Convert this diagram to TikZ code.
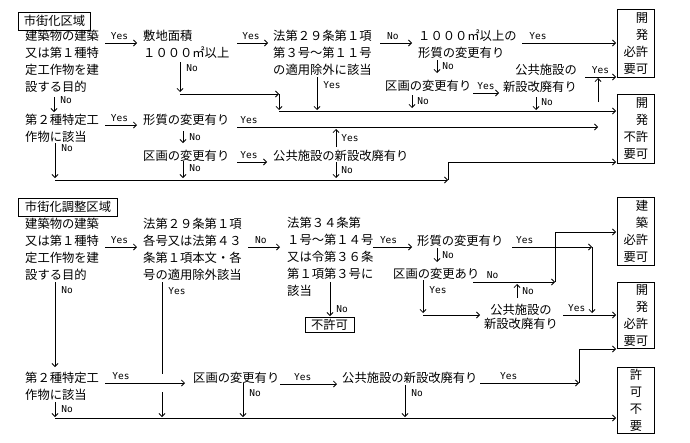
\documentclass[tikz,border=0pt]{standalone}
\usepackage{fontspec}
\usetikzlibrary{arrows.meta}
\newfontfamily\jpfont{Noto Sans CJK JP}
\newfontfamily\ynfont{DejaVu Sans Mono}

\tikzset{
	jtxt/.style={font=\jpfont\fontsize{12.3}{17}\selectfont, inner sep=0pt, align=left, anchor=north west},
	yn/.style={font=\ynfont\fontsize{9.5}{10}\selectfont, inner sep=1pt},
	areabox/.style={draw, line width=0.8pt, font=\jpfont\fontsize{12.3}{17}\selectfont, inner xsep=5.5pt, inner ysep=0pt, minimum height=18pt},
	kbox/.style={draw, line width=0.8pt, font=\jpfont\fontsize{12.3}{17}\selectfont, align=right, anchor=north west, inner xsep=6pt, inner ysep=0pt, minimum width=37pt},
	flow/.style={-{Straight Barb[length=3pt,width=6pt]}, line width=0.8pt},
	wire/.style={line width=0.8pt}
}

\begin{document}
\begin{tikzpicture}[x=1pt,y=-1pt]
			\useasboundingbox (0,0) rectangle (690,442);

			% 市街化区域
			\node[areabox] (shigaika) at (54.5,21) {市街化区域};
			\node[jtxt] (mokuteki1) at (25,29.5) {建築物の建築\\又は第１種特\\定工作物を建\\設する目的};
			\node[jtxt] (shikichi) at (143,29.5) {敷地面積\\１０００㎡以上};
			\node[jtxt] (tekiyo1) at (273,29.5) {法第２９条第１項\\第３号～第１１号\\の適用除外に該当};
			\node[jtxt] (keishitsu1) at (418,29.5) {１０００㎡以上の\\形質の変更有り};
			\node[jtxt] (kukaku1) at (385,80) {区画の変更有り};
			\node[jtxt,anchor=north east,align=right] (koukyou1) at (577,63.5) {公共施設の\\新設改廃有り};
			\node[kbox,minimum height=68pt] (kyoka1) at (617,9) {開\\発\\必許\\要可};
			\node[kbox,minimum height=69pt] (fukyoka1) at (617,94) {開\\発\\不許\\要可};
			\node[jtxt] (tokutei1) at (25,114) {第２種特定工\\作物に該当};
			\node[jtxt] (keishitsu2) at (143,114) {形質の変更有り};
			\node[jtxt] (kukaku2) at (143,149.5) {区画の変更有り};
			\node[jtxt] (koukyou2) at (273,149.5) {公共施設の新設改廃有り};

			\coordinate (A1) at (105,43);  \coordinate (A2) at (137,43);
			\coordinate (B1) at (237,43);  \coordinate (B2) at (268,43);
			\coordinate (C1) at (380,43);  \coordinate (C2) at (412,43);
			\coordinate (D1) at (522,43);  \coordinate (D2) at (616,43);
			\coordinate (E1) at (180,62);  \coordinate (E2) at (180,92);
			\coordinate (E3) at (180,94);  \coordinate (E4) at (279,94);
			\coordinate (E5) at (279,110);
			\coordinate (F1) at (317,77);  \coordinate (F2) at (317,110);
			\coordinate (G1) at (437,60);  \coordinate (G2) at (437,73);
			\coordinate (H1) at (412,95);  \coordinate (H2) at (412,108);
			\coordinate (I1) at (473,93);  \coordinate (I2) at (499,93);
			\coordinate (J1) at (536,97);  \coordinate (J2) at (536,110);
			\coordinate (K1) at (585,77);  \coordinate (K2) at (616,77);
			\coordinate (K3) at (598,102); \coordinate (K4) at (598,78);
			\coordinate (L1) at (279,111); \coordinate (L2) at (616,111);
			\coordinate (M1) at (237,127); \coordinate (M2) at (598,127);
			\coordinate (N1) at (54,97);   \coordinate (N2) at (54,112);
			\coordinate (O1) at (105,125); \coordinate (O2) at (137,125);
			\coordinate (P1) at (183,131); \coordinate (P2) at (183,143);
			\coordinate (P3) at (183,161); \coordinate (P4) at (183,178);
			\coordinate (Q1) at (237,162); \coordinate (Q2) at (267,162);
			\coordinate (R1) at (336,147); \coordinate (R2) at (336,129);
			\coordinate (R3) at (336,162); \coordinate (R4) at (336,178);
			\coordinate (S1) at (55,143);  \coordinate (S2) at (55,178);
			\coordinate (T1) at (55,180);  \coordinate (T2) at (448,180);
			\coordinate (T3) at (448,162); \coordinate (T4) at (616,162);

			\draw[flow] (A1) -- node[yn,pos=.45,above=2pt] {Yes} (A2);
			\draw[flow] (B1) -- node[yn,pos=.45,above=2pt] {Yes} (B2);
			\draw[flow] (C1) -- node[yn,pos=.4,above=2pt] {No} (C2);
			\draw[flow] (D1) -- node[yn,pos=.17,above=2pt] {Yes} (D2);
			\draw[flow] (E1) -- node[yn,pos=.2,right=5pt] {No} (E2);
			\draw[flow] (E3) -- (E4);
			\draw[flow] (E4) -- (E5);
			\draw[flow] (F1) -- node[yn,pos=.25,right=5pt] {Yes} (F2);
			\draw[flow] (G1) -- node[yn,pos=.5,right=4pt] {No} (G2);
			\draw[flow] (H1) -- node[yn,pos=.45,right=4pt] {No} (H2);
			\draw[flow] (I1) -- node[yn,pos=.5,above=2pt] {Yes} (I2);
			\draw[flow] (J1) -- node[yn,pos=.4,right=4pt] {No} (J2);
			\draw[flow] (K1) -- node[yn,pos=.5,above=2pt] {Yes} (K2);
			\draw[flow] (K3) -- (K4);
			\draw[flow] (L1) -- (L2);
			\draw[flow] (M1) -- node[yn,pos=0,above right=2pt] {Yes} (M2);
			\draw[flow] (N1) -- node[yn,pos=.2,right=5pt] {No} (N2);
			\draw[flow] (O1) -- node[yn,pos=.45,above=2pt] {Yes} (O2);
			\draw[flow] (P1) -- node[yn,pos=.5,right=5pt] {No} (P2);
			\draw[flow] (P3) -- node[yn,pos=.4,right=5pt] {No} (P4);
			\draw[flow] (Q1) -- node[yn,pos=.4,above=2pt] {Yes} (Q2);
			\draw[flow] (R1) -- node[yn,pos=.5,right=4pt] {Yes} (R2);
			\draw[flow] (R3) -- node[yn,pos=.5,right=4pt] {No} (R4);
			\draw[flow] (S1) -- node[yn,pos=.15,right=5pt] {No} (S2);
			\draw[flow] (T1) -- (T2);
			\draw[flow] (T2) -- (T3) -- (T4);

			% 市街化調整区域
			\node[areabox,inner xsep=6.5pt] (chosei) at (68,207) {市街化調整区域};
			\node[jtxt] (mokuteki2) at (25,217.5) {建築物の建築\\又は第１種特\\定工作物を建\\設する目的};
			\node[jtxt] (tekiyo2) at (143,217.5) {法第２９条第１項\\各号又は法第４３\\条第１項本文・各\\号の適用除外該当};
			\node[jtxt] (hou34) at (287,217) {法第３４条第\\１号～第１４号\\又は令第３６条\\第１項第３号に\\該当};
			\node[jtxt] (keishitsu3) at (417,234.5) {形質の変更有り};
			\node[jtxt] (kukaku3) at (393,267.5) {区画の変更あり};
			\node[jtxt,anchor=north,align=center] (koukyou3) at (521,303.5) {公共施設の\\[-3pt]新設改廃有り};
			\node[draw,line width=0.8pt,font=\jpfont\fontsize{12.3}{17}\selectfont,inner xsep=6pt,inner ysep=0pt,minimum height=15pt] (fukyoka2) at (329.5,325) {不許可};
			\node[kbox,minimum height=68pt] (kyoka2) at (617,197) {建\\築\\必許\\要可};
			\node[kbox,minimum height=66pt] (kyoka3) at (617,282) {開\\発\\必許\\要可};
			\node[kbox,align=center,minimum height=66pt] (fuyo) at (617,367) {許\\可\\不\\要};
			\node[jtxt] (tokutei2) at (25,371.5) {第２種特定工\\作物に該当};
			\node[jtxt] (kukaku4) at (193,371.5) {区画の変更有り};
			\node[jtxt] (koukyou4) at (342,371.5) {公共施設の新設改廃有り};

			\coordinate (a1) at (105,247); \coordinate (a2) at (137,247);
			\coordinate (b1) at (248,247); \coordinate (b2) at (280,247);
			\coordinate (c1) at (373,247); \coordinate (c2) at (412,247);
			\coordinate (d1) at (437,248); \coordinate (d2) at (437,262);
			\coordinate (e1) at (512,247); \coordinate (e2) at (592,247);
			\coordinate (e3) at (592,313);
			\coordinate (f1) at (473,282); \coordinate (f2) at (555,282);
			\coordinate (f3) at (555,232); \coordinate (f4) at (616,232);
			\coordinate (g1) at (517,298); \coordinate (g2) at (517,284);
			\coordinate (h1) at (423,280); \coordinate (h2) at (423,313);
			\coordinate (h3) at (423,315); \coordinate (h4) at (480,315);
			\coordinate (i1) at (563,315); \coordinate (i2) at (616,315);
			\coordinate (j1) at (162,282); \coordinate (j2) at (162,374);
			\coordinate (j3) at (162,392); \coordinate (j4) at (162,417);
			\coordinate (k1) at (55,282);  \coordinate (k2) at (55,367);
			\coordinate (l1) at (105,383); \coordinate (l2) at (185,383);
			\coordinate (m1) at (55,402);  \coordinate (m2) at (55,417);
			\coordinate (n1) at (243,383); \coordinate (n2) at (243,417);
			\coordinate (o1) at (280,384); \coordinate (o2) at (337,384);
			\coordinate (p1) at (405,385); \coordinate (p2) at (405,417);
			\coordinate (q1) at (480,383); \coordinate (q2) at (579,383);
			\coordinate (q3) at (579,349); \coordinate (q4) at (616,349);
			\coordinate (r1) at (55,418);  \coordinate (r2) at (616,418);
			\coordinate (s1) at (330,282); \coordinate (s2) at (330,316);

			\draw[flow] (a1) -- node[yn,pos=.45,above=2pt] {Yes} (a2);
			\draw[flow] (b1) -- node[yn,pos=.4,above=2pt] {No} (b2);
			\draw[flow] (c1) -- node[yn,pos=.4,above=2pt] {Yes} (c2);
			\draw[flow] (d1) -- node[yn,pos=.5,right=4pt] {No} (d2);
			\draw[flow] (e1) -- node[yn,pos=.16,above=2pt] {Yes} (e2);
			\draw[flow] (e2) -- (e3);
			\draw[flow] (f1) -- node[yn,pos=.24,above=2pt] {No} (f2);
			\draw[flow] (f2) -- (f3) -- (f4);
			\draw[flow] (g1) -- node[yn,pos=.5,right=4pt] {No} (g2);
			\draw[flow] (h1) -- node[yn,pos=.3,right=5pt] {Yes} (h2);
			\draw[flow] (h3) -- (h4);
			\draw[flow] (i1) -- node[yn,pos=.26,above=2pt] {Yes} (i2);
			\draw[wire] (j1) -- node[yn,pos=.1,right=5pt] {Yes} (j2);
			\draw[flow] (j3) -- (j4);
			\draw[flow] (k1) -- node[yn,pos=.1,right=5pt] {No} (k2);
			\draw[flow] (l1) -- node[yn,pos=.2,above=2pt] {Yes} (l2);
			\draw[flow] (m1) -- node[yn,pos=.5,right=5pt] {No} (m2);
			\draw[flow] (n1) -- node[yn,pos=.3,right=5pt] {No} (n2);
			\draw[flow] (o1) -- node[yn,pos=.4,above=2pt] {Yes} (o2);
			\draw[flow] (p1) -- node[yn,pos=.25,right=5pt] {No} (p2);
			\draw[flow] (q1) -- node[yn,pos=.29,above=2pt] {Yes} (q2);
			\draw[flow] (q2) -- (q3) -- (q4);
			\draw[flow] (r1) -- (r2);
			\draw[flow] (s1) -- node[yn,pos=.8,right=5pt] {No} (s2);
\end{tikzpicture}
\end{document}
